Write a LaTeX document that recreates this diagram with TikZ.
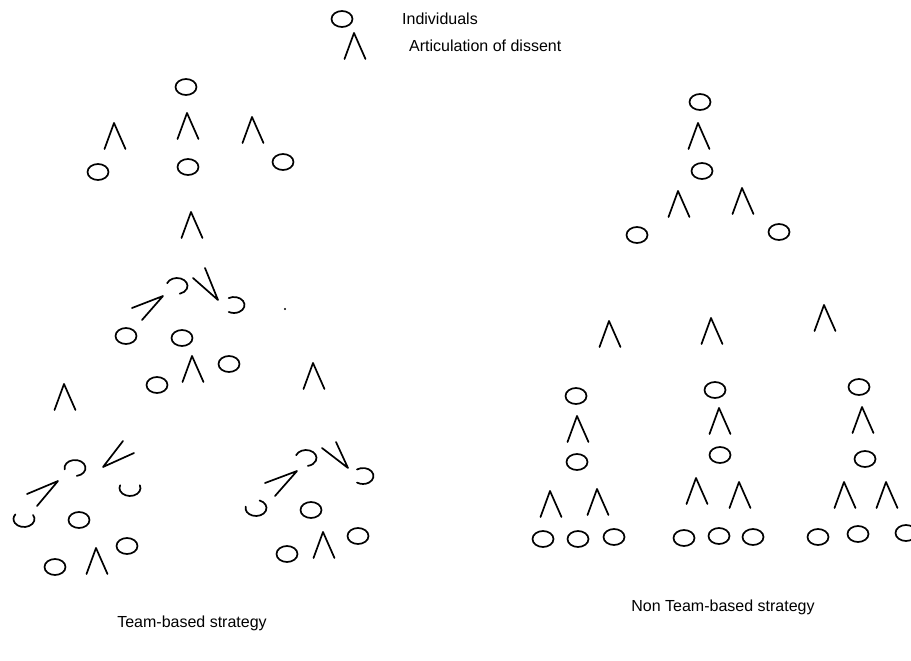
\documentclass[tikz,border=0pt]{standalone}
\usepackage{fontspec}
\setmainfont{Liberation Sans}
% an individual: a small closed oval
\newcommand\ovalat[2]{\draw[ink] (#1,#2) ellipse[x radius=10.5, y radius=8];}
% an individual drawn only partly (broken oval), angles measured with y pointing down
\newcommand\arcovalat[4]{\draw[ink] (#1,#2) ++(#3:10.5 and 8) arc[start angle=#3, end angle=#4, x radius=10.5, y radius=8];}
% articulation of dissent: an upright caret centred on (x,y)
\newcommand\caretat[2]{\draw[ink] ({#1-10.5},{#2+13}) -- ({#1-1},{#2-13}) -- ({#1+10.5},{#2+13});}
% a tilted caret: apex, then the two feet
\newcommand\tiltcaret[6]{\draw[ink] (#3,#4) -- (#1,#2) -- (#5,#6);}
\begin{document}
\begin{tikzpicture}[x=1pt,y=-1pt,
  ink/.style={line width=1.7pt, line join=round, line cap=round},
  caption/.style={font=\fontsize{16}{19}\selectfont, inner sep=0pt}]
\useasboundingbox (0,0) rectangle (911,661);
\fill[white] (0,0) rectangle (911,661);
\clip (0,0) rectangle (911,661);

% ---- legend ----
\ovalat{342}{19}
\node[caption, anchor=west] (legInd) at (402,19) {Individuals};
\caretat{355}{46}
\node[caption, anchor=west] (legDis) at (409,46) {Articulation of dissent};

% ---- team-based strategy: top group ----
\ovalat{186}{87}
\caretat{188}{126}
\caretat{115}{136}
\caretat{253}{130}
\ovalat{98}{172}
\ovalat{188}{167}
\ovalat{283}{162}
\caretat{192}{225}

% ---- team-based strategy: middle group ----
\arcovalat{177}{286}{200}{435}
\tiltcaret{163}{296}{132}{308}{142}{320}
\tiltcaret{218}{300}{205}{268}{193}{278}
\arcovalat{234}{305}{240}{480}
\fill (285,309) circle (1.1);
\ovalat{126}{336}
\ovalat{182}{338}
\caretat{193}{369}
\ovalat{229}{364}
\ovalat{157}{385}
\caretat{314}{376}
\caretat{65}{397}

% ---- team-based strategy: lower left group ----
\arcovalat{75}{468}{170}{440}
\tiltcaret{103}{467}{123}{441}{134}{453}
\tiltcaret{58}{481}{27}{494}{37}{506}
\arcovalat{130}{488}{-20}{200}
\arcovalat{24}{519}{-30}{215}
\ovalat{79}{520}
\ovalat{127}{546}
\caretat{97}{561}
\ovalat{55}{567}

% ---- team-based strategy: lower right group ----
\arcovalat{306}{458}{200}{440}
\tiltcaret{348}{468}{322}{448}{336}{442}
\arcovalat{363}{476}{235}{485}
\tiltcaret{297}{471}{265}{483}{275}{496}
\arcovalat{256}{508}{290}{550}
\ovalat{311}{510}
\ovalat{358}{536}
\caretat{324}{545}
\ovalat{287}{554}

% ---- non team-based strategy: top ----
\ovalat{700}{102}
\caretat{699}{136}
\ovalat{702}{171}
\caretat{679}{204}
\caretat{743}{201}
\ovalat{637}{235}
\ovalat{779}{232}

% ---- non team-based strategy: three chains ----
\caretat{610}{334}
\caretat{712}{331}
\caretat{825}{318}

\ovalat{576}{396}
\caretat{578}{429}
\ovalat{577}{462}
\caretat{551}{504}
\caretat{598}{502}
\ovalat{543}{539}
\ovalat{578}{539}
\ovalat{614}{537}

\ovalat{715}{390}
\caretat{720}{421}
\ovalat{720}{455}
\caretat{697}{491}
\caretat{740}{495}
\ovalat{684}{538}
\ovalat{719}{536}
\ovalat{753}{537}

\ovalat{859}{387}
\caretat{863}{420}
\ovalat{865}{459}
\caretat{845}{495}
\caretat{887}{495}
\ovalat{818}{537}
\ovalat{858}{534}
\ovalat{906}{533}

% ---- captions ----
\node[caption] (capTeam) at (192,623) {Team-based strategy};
\node[caption] (capNon) at (723,607) {Non Team-based strategy};
\end{tikzpicture}
\end{document}
